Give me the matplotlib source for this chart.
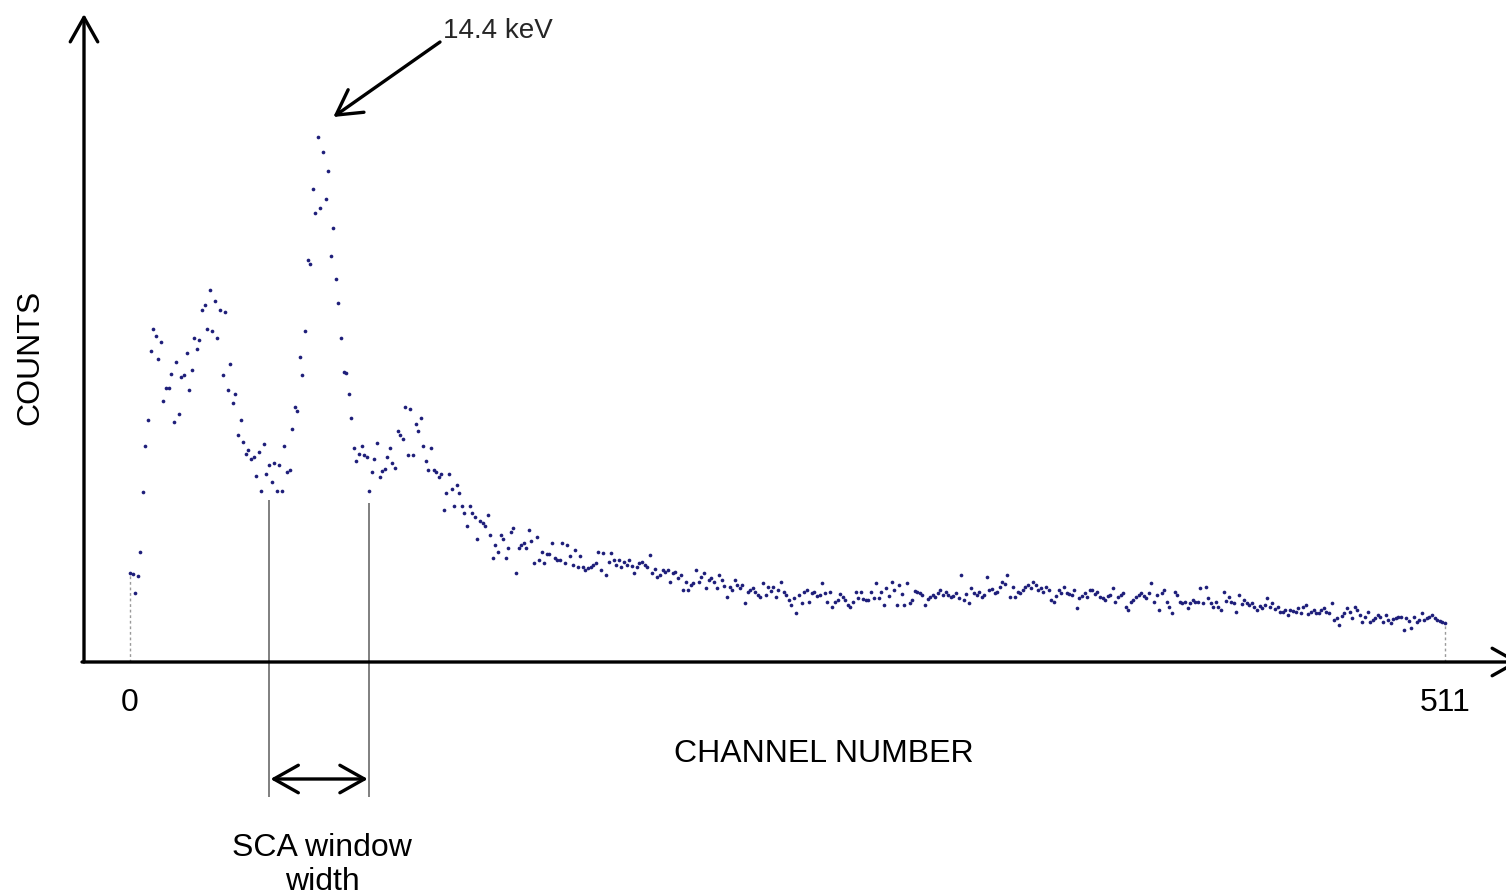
import numpy as np
import matplotlib
matplotlib.use("Agg")
from matplotlib import pyplot as plt

plt.rcParams['font.family'] = ['Liberation Sans', 'DejaVu Sans']

# counts per channel (arbitrary units)
# channels 0-63: rise, low-energy peak and first valley
counts_low = [
    89, 88, 69, 86, 110, 170, 216, 242, 311, 333, 326, 303, 320, 261, 274, 274,
    288, 240, 300, 248, 285, 287, 309, 272, 292, 324, 313, 322, 352, 357, 333, 372,
    331, 361, 324, 352, 287, 350, 272, 298, 259, 268, 227, 242, 220, 208, 212, 203,
    205, 186, 210, 171, 218, 188, 197, 180, 199, 171, 197, 171, 216, 190, 192, 233,
]
# channels 64-130: 14.4 keV peak and second bump
counts_peak = [
    255, 251, 305, 287, 331, 402, 398, 473, 449, 525, 454, 510, 463, 491, 406, 434,
    383, 359, 324, 290, 289, 268, 244, 214, 201, 208, 216, 207, 205, 171, 190, 203,
    219, 185, 191, 193, 205, 214, 199, 194, 231, 227, 223, 255, 207, 253, 207, 238,
    231, 244, 216, 201, 192, 214, 192, 190, 185, 188, 152, 169, 188, 173, 156, 177,
    169, 156, 149,
]
# channels 131-177: falling shoulder
counts_shoulder = [
    136, 156, 149, 145, 123, 141, 139, 136, 147, 127, 104, 117, 110, 127, 123, 104,
    114, 130, 134, 89, 114, 117, 119, 114, 132, 121, 99, 125, 102, 110, 99, 108,
    108, 119, 104, 102, 102, 119, 99, 117, 106, 97, 112, 95, 106, 95, 92,
]
# channels 178-291
counts_tail1 = [
    94, 95, 97, 99, 110, 92, 109, 87, 100, 109,
    102, 97, 102, 95, 100, 97, 102, 96, 89, 95,
    99, 100, 97, 95, 107, 89, 93, 85, 87, 92,
    90, 92, 80, 89, 90, 84, 87, 72, 80, 72,
    77, 79, 92, 80, 85, 89, 74, 82, 84, 80,
    74, 87, 82, 76, 65, 75, 72, 82, 77, 74,
    77, 59, 70, 72, 74, 70, 67, 65, 79, 67,
    75, 71, 75, 65, 72, 80, 70, 67, 62, 57,
    64, 49, 67, 59, 70, 72, 60, 69, 70, 66,
    67, 79, 69, 60, 70, 55, 60, 62, 68, 65,
    62, 57, 55, 60, 70, 64, 70, 63, 62, 62,
    70, 64, 79, 64,
]
# channels 292-407
counts_tail2 = [
    70, 57, 74, 66, 80, 72, 57, 77, 68, 57,
    79, 59, 62, 71, 70, 69, 67, 57, 63, 65,
    67, 65, 69, 72, 67, 70, 67, 65, 66, 69,
    64, 87, 62, 68, 59, 74, 69, 67, 70, 65,
    67, 85, 72, 73, 69, 70, 75, 80, 78, 87,
    65, 75, 65, 70, 69, 72, 75, 77, 74, 80,
    77, 72, 74, 70, 75, 72, 62, 60, 66, 72,
    69, 75, 69, 68, 67, 72, 54, 64, 66, 69,
    65, 72, 72, 68, 70, 65, 64, 62, 66, 67,
    74, 60, 65, 67, 69, 55, 52, 60, 62,
    65, 67, 69, 66, 64, 69, 79, 60, 67,
    52, 69, 72, 60, 55, 49, 70, 67,
]
# channels 408-511
counts_tail3 = [
    60, 59, 60, 54, 59, 62, 60, 60, 74, 59, 75, 64, 59,
    55, 60, 55, 52, 70, 61, 65, 60, 59, 50, 67, 58, 62,
    59, 57, 59, 55, 52, 56, 54, 57, 64, 55, 59, 53, 55,
    50, 50, 52, 47, 52, 51, 50, 54, 49, 55, 57, 48, 50,
    52, 49, 49, 52, 54, 50, 49, 59, 42, 44, 37, 46, 49,
    54, 50, 44, 55, 52, 47, 40, 45, 50, 40, 42, 44, 47,
    45, 40, 47, 42, 39, 43, 44, 45, 45, 32, 44, 41, 34,
    45, 40, 42, 49, 42, 44, 45, 47, 44, 42, 41, 40, 39,
]
segments = [(0, counts_low), (64, counts_peak), (131, counts_shoulder),
             (178, counts_tail1), (292, counts_tail2), (408, counts_tail3)]

sca_window = [54, 93]     # lower / upper SCA channel
peak_channel = 75
last_channel = 511

# pixel layout of the original picture
X0_PX, PX_PER_CH, BASE_PX = 130, 2.573, 662


def cx(px):
    return (px - X0_PX) / PX_PER_CH


def cy(py):
    return BASE_PX - py


fig = plt.figure(figsize=(15.06, 8.96), dpi=100)
ax = fig.add_axes([0, 0, 1, 1])
ax.set_xlim(cx(0), cx(1506))
ax.set_ylim(cy(896), cy(0))
ax.axis('off')

chan = np.concatenate([start + np.arange(len(seg)) for start, seg in segments])
cnt = np.concatenate([np.array(seg, dtype=float) for _, seg in segments])

ax.scatter(chan, cnt, s=7, color='#1e1e7a', linewidths=0, zorder=3)

# dashed drop lines at first and last channel
ax.vlines([chan[0], chan[-1]], 0, [cnt[0], cnt[-1]], colors='#9a9a9a',
          linestyles=(0, (2, 2)), linewidth=1.0)

# axes drawn as arrows
arrow_kw = dict(arrowstyle='->,head_length=0.8,head_width=0.45', lw=2.4,
                color='black', mutation_scale=22, shrinkA=0, shrinkB=0)
ax.annotate('', xy=(cx(84), cy(14)), xytext=(cx(84), 0),
            arrowprops=arrow_kw, annotation_clip=False)
ax.annotate('', xy=(cx(1520), 0), xytext=(cx(82), 0),
            arrowprops=arrow_kw, annotation_clip=False)

ax.text(0, cy(703), '0', ha='center', va='center', fontsize=23)
ax.text(last_channel, cy(703), '511', ha='center', va='center', fontsize=23)
ax.text(cx(824), cy(754), 'CHANNEL NUMBER', ha='center', va='center', fontsize=23)
ax.text(cx(30), cy(357), 'COUNTS', ha='center', va='center', fontsize=23,
        rotation=90)

# peak label
ax.annotate('', xy=(peak_channel + 4, cy(117)), xytext=(cx(440), cy(42)),
            arrowprops=arrow_kw, annotation_clip=False)
ax.text(cx(443), cy(31), '14.4 keV', ha='left', va='center', fontsize=20,
        color='#262626')

# SCA window markers
ax.vlines(sca_window[0], cy(797), cy(500), colors='#7f7f7f', linewidth=1.4)
ax.vlines(sca_window[1], cy(797), cy(503), colors='#7f7f7f', linewidth=1.4)
dbl_kw = dict(arrow_kw, arrowstyle='<->,head_length=0.8,head_width=0.45')
ax.annotate('', xy=(sca_window[1] - 0.6, cy(779)), xytext=(sca_window[0] + 0.6, cy(779)),
            arrowprops=dbl_kw, annotation_clip=False)
ax.text(cx(322), cy(865), 'SCA window\nwidth', ha='center', va='center',
        fontsize=23, linespacing=1.2)

plt.savefig('out.png', dpi=100)
